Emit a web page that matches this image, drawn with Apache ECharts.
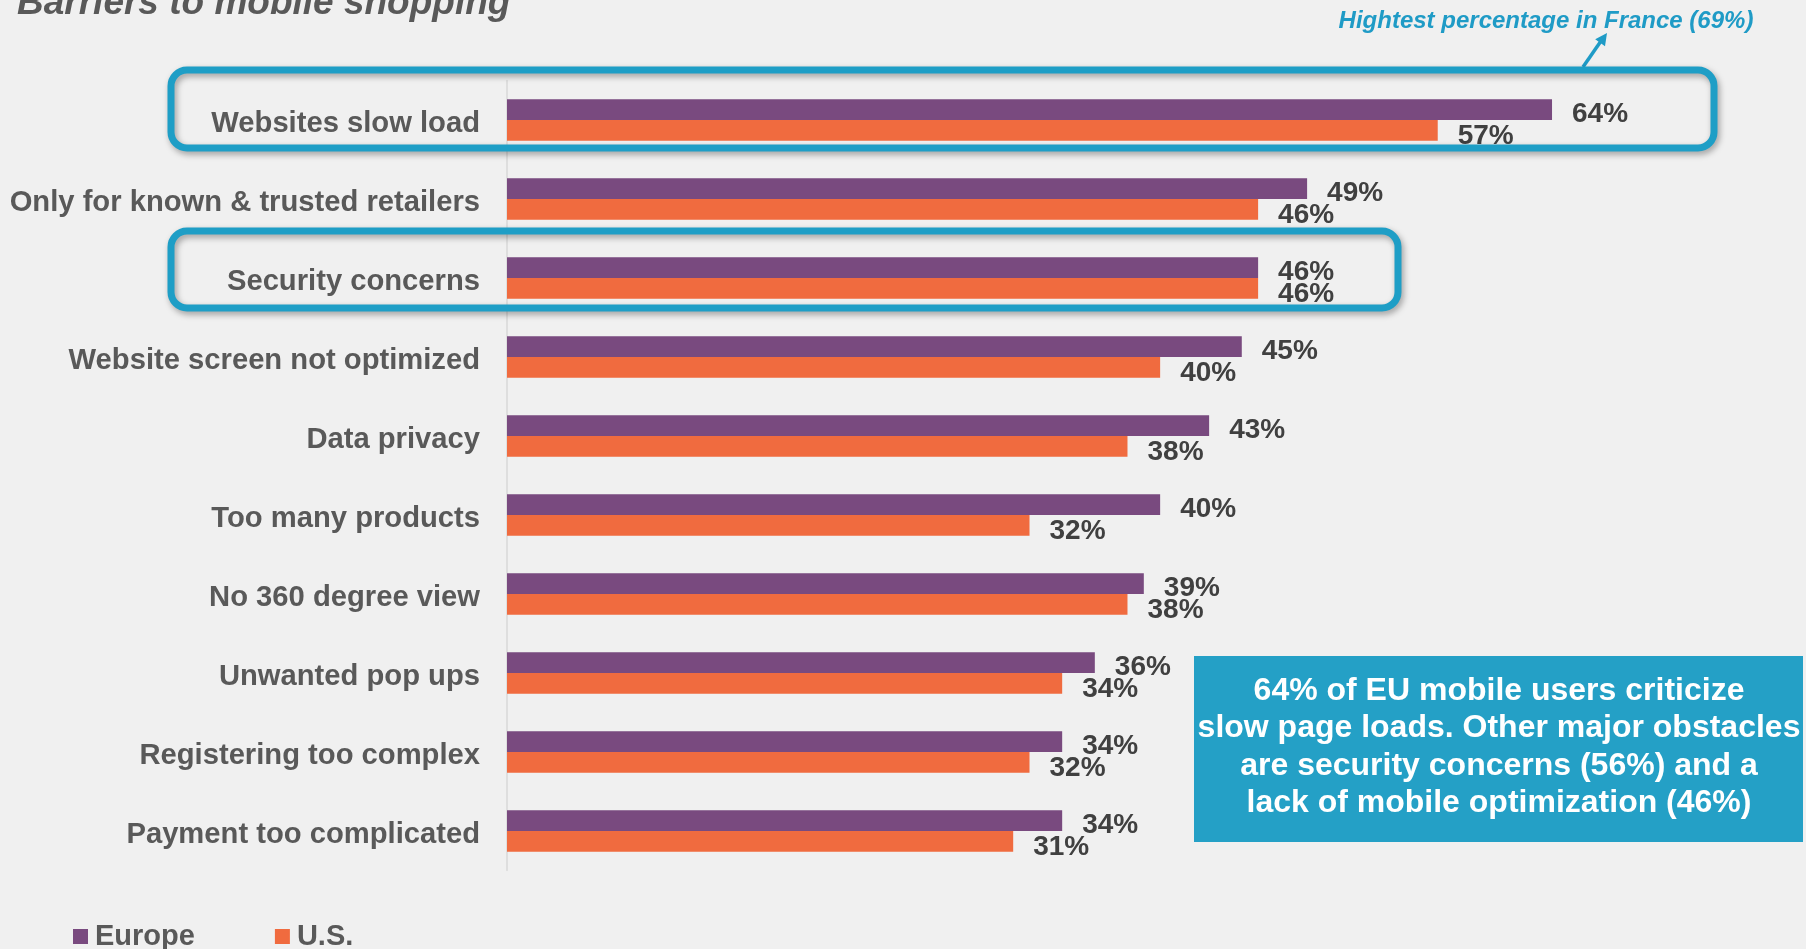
<!DOCTYPE html>
<html>
<head>
<meta charset="utf-8">
<script src="https://cdn.jsdelivr.net/npm/echarts@6/dist/echarts.min.js"></script>
<style>
html,body{margin:0;padding:0;background:#f0f0f0;}
#chart{width:1806px;height:949px;}
</style>
</head>
<body>
<div id="chart"></div>
<script>
const categories = [
  'Websites slow load',
  'Only for known & trusted retailers',
  'Security concerns',
  'Website screen not optimized',
  'Data privacy',
  'Too many products',
  'No 360 degree view',
  'Unwanted pop ups',
  'Registering too complex',
  'Payment too complicated'
];
const europe = [64, 49, 46, 45, 43, 40, 39, 36, 34, 34];
const us = [57, 46, 46, 40, 38, 32, 38, 34, 32, 31];
const seriesNames = ['Europe', 'U.S.'];
const titleText = 'Barriers to mobile shopping';
const noteText = 'Hightest percentage in France (69%)';
const boxText = '64% of EU mobile users criticize\nslow page loads. Other major obstacles\nare security concerns (56%) and a\nlack of mobile optimization (46%)';

const FONT = '"Liberation Sans", Arial, sans-serif';
const chart = echarts.init(document.getElementById('chart'), null, {renderer: 'canvas'});

const labelStyle = {
  show: true, position: 'right', distance: 20,
  formatter: '{c}%', fontSize: 28, fontWeight: 'bold', color: '#404040', fontFamily: FONT
};

const option = {
  backgroundColor: '#f0f0f0',
  animation: false,
  grid: {left: 507, right: 156, top: 80.5, bottom: 78.5, containLabel: false},
  xAxis: {type: 'value', min: 0, max: 70, show: false},
  yAxis: {
    type: 'category', data: categories, inverse: true,
    axisLine: {show: true, lineStyle: {color: '#d9d9d9', width: 1.5}},
    axisTick: {show: false},
    axisLabel: {margin: 27, fontSize: 29.2, fontWeight: 'bold', color: '#595959', fontFamily: FONT,
                verticalAlign: 'top', lineHeight: 7}
  },
  legend: {
    left: 68, top: 917, itemWidth: 15, itemHeight: 15, itemGap: 80, icon: 'rect',
    data: seriesNames,
    textStyle: {fontSize: 29, fontWeight: 'bold', color: '#595959', fontFamily: FONT, padding: [0, 0, 0, 2]}
  },
  series: [
    {name: seriesNames[0], type: 'bar', data: europe, barWidth: 20.7, barGap: '0%',
     itemStyle: {color: '#794a7f'}, label: Object.assign({}, labelStyle, {offset: [0, 5]})},
    {name: seriesNames[1], type: 'bar', data: us, barWidth: 20.7, barGap: '0%',
     itemStyle: {color: '#f06b3f'}, label: Object.assign({}, labelStyle, {offset: [0, 6]})}
  ],
  graphic: [
    {type: 'text', x: 17, y: 3.5, silent: true,
     style: {text: titleText, fontSize: 37, fontWeight: 'bold', fontStyle: 'italic', fill: '#595959',
             fontFamily: FONT, verticalAlign: 'middle', align: 'left'}},
    {type: 'text', x: 1546, y: 21, silent: true,
     style: {text: noteText, fontSize: 24, fontWeight: 'bold', fontStyle: 'italic', fill: '#1f9bc6',
             fontFamily: FONT, verticalAlign: 'middle', align: 'center'}},
    {type: 'line', silent: true, shape: {x1: 1583, y1: 67, x2: 1601, y2: 41},
     style: {stroke: '#1f9bc6', lineWidth: 3.5}},
    {type: 'polygon', silent: true, shape: {points: [[1607, 33], [1605, 46.3], [1595.2, 39.3]]},
     style: {fill: '#1f9bc6'}},
    {type: 'rect', silent: true, z: 10,
     shape: {x: 171, y: 70, width: 1543, height: 78, r: 16},
     style: {fill: 'none', stroke: '#1e9ec6', lineWidth: 7,
             shadowBlur: 6, shadowColor: 'rgba(0,0,0,0.35)', shadowOffsetX: 2, shadowOffsetY: 3}},
    {type: 'rect', silent: true, z: 10,
     shape: {x: 171, y: 231, width: 1227, height: 77, r: 16},
     style: {fill: 'none', stroke: '#1e9ec6', lineWidth: 7,
             shadowBlur: 6, shadowColor: 'rgba(0,0,0,0.35)', shadowOffsetX: 2, shadowOffsetY: 3}},
    {type: 'rect', silent: true, z: 10,
     shape: {x: 1194, y: 656, width: 609, height: 186},
     style: {fill: '#24a0c6'}},
    {type: 'text', silent: true, z: 11, x: 1499, y: 747,
     style: {text: boxText, fontSize: 32, fontWeight: 'bold', fill: '#ffffff', fontFamily: FONT,
             lineHeight: 37.5, align: 'center', verticalAlign: 'middle'}}
  ]
};
chart.setOption(option);
</script>
</body>
</html>
